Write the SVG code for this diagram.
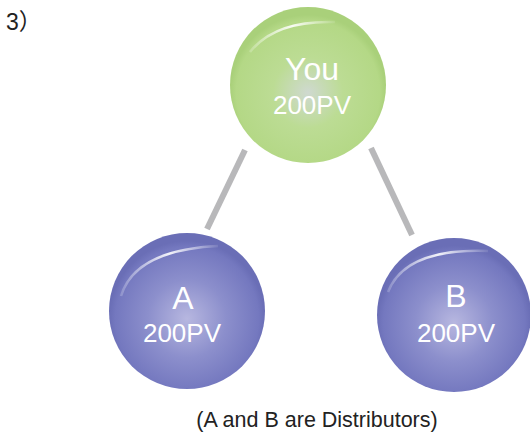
<svg xmlns="http://www.w3.org/2000/svg" width="530" height="435" viewBox="0 0 530 435">
<defs>
<radialGradient id="gGreen" cx="0.5" cy="0.55" r="0.5">
<stop offset="0" stop-color="#cfd9d0"/>
<stop offset="0.45" stop-color="#bcdc94"/>
<stop offset="0.92" stop-color="#b4d886"/>
<stop offset="1" stop-color="#a9d07a"/>
</radialGradient>
<radialGradient id="gBlue" cx="0.5" cy="0.55" r="0.5">
<stop offset="0" stop-color="#b7b7e0"/>
<stop offset="0.5" stop-color="#8c8fcc"/>
<stop offset="0.92" stop-color="#7478bf"/>
<stop offset="1" stop-color="#6a6eb6"/>
</radialGradient>
<linearGradient id="hl" x1="0" y1="0" x2="1" y2="0">
<stop offset="0" stop-color="#ffffff" stop-opacity="0.2"/>
<stop offset="0.5" stop-color="#ffffff" stop-opacity="0.9"/>
<stop offset="1" stop-color="#ffffff" stop-opacity="0.1"/>
</linearGradient>
</defs>
<style>
.lbl{font-family:"Liberation Sans",Arial,sans-serif;fill:#ffffff;text-anchor:middle}
.conn{stroke:#b8b8ba;stroke-width:6;fill:none}
.cap{font-family:"Liberation Sans","Noto Sans CJK JP",Arial,sans-serif;fill:#222222}
</style>
<rect width="530" height="435" fill="#ffffff"/>
<text class="cap" x="6" y="30" font-size="23">3）</text>
<g id="connectors">
<line class="conn" x1="245" y1="150" x2="207" y2="229"/>
<line class="conn" x1="371" y1="148" x2="412" y2="235"/>
</g>
<g id="you">
<circle cx="308" cy="85" r="78" fill="url(#gGreen)"/>
<path d="M250,52 Q275,20 335,22" stroke="url(#hl)" stroke-width="2.5" fill="none"/>
<text class="lbl" x="312" y="80" font-size="32">You</text>
<text class="lbl" x="312" y="114" font-size="26">200PV</text>
</g>
<g id="a">
<circle cx="187" cy="311" r="78" fill="url(#gBlue)"/>
<path d="M121,296 Q135,250 218,246" stroke="url(#hl)" stroke-width="2.5" fill="none"/>
<text class="lbl" x="183" y="309" font-size="32">A</text>
<text class="lbl" x="182" y="342" font-size="26">200PV</text>
</g>
<g id="b">
<circle cx="454" cy="315" r="77" fill="url(#gBlue)"/>
<path d="M388,292 Q405,248 488,251" stroke="url(#hl)" stroke-width="2.5" fill="none"/>
<text class="lbl" x="456" y="307" font-size="32">B</text>
<text class="lbl" x="456" y="342" font-size="26">200PV</text>
</g>
<text class="cap" x="317" y="427" font-size="21.5" text-anchor="middle">(A and B are Distributors)</text>
</svg>
